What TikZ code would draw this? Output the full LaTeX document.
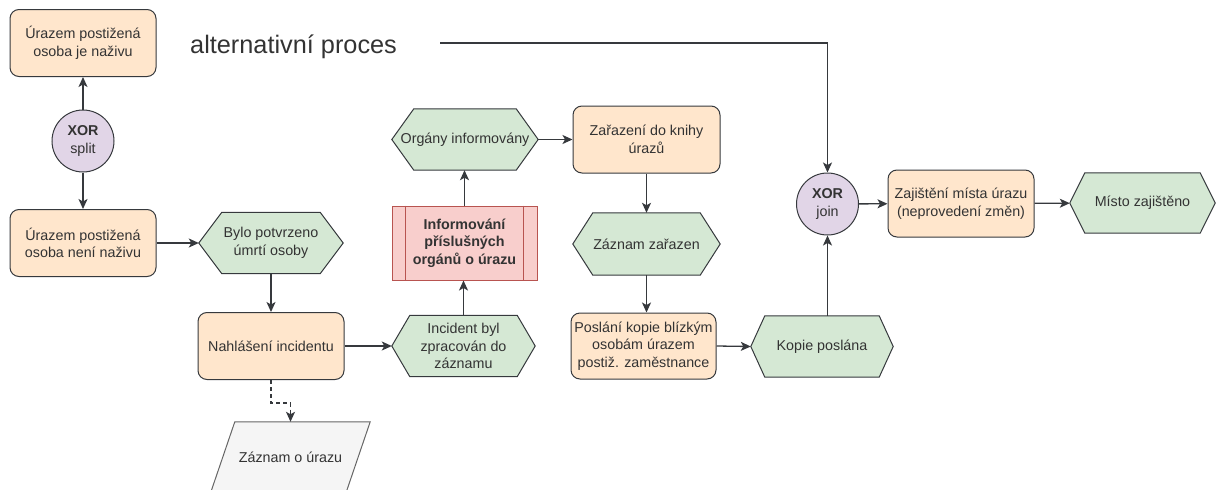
\documentclass[tikz,border=0pt]{standalone}
\usepackage{fontspec}
\setmainfont{Liberation Sans}
\usetikzlibrary{arrows.meta,backgrounds}

\definecolor{funcfill}{HTML}{FFE6CC}
\definecolor{evfill}{HTML}{D5E8D4}
\definecolor{xorfill}{HTML}{E1D5E7}
\definecolor{procfill}{HTML}{F8CECC}
\definecolor{procline}{HTML}{B85450}
\definecolor{docfill}{HTML}{F5F5F5}
\definecolor{docline}{HTML}{666666}
\definecolor{edge}{HTML}{36393D}
\definecolor{txt}{HTML}{333333}

\begin{document}
\begin{tikzpicture}[x=1pt,y=-1pt,
  every node/.style={text=txt, font=\fontsize{14.3}{17.5}\selectfont, align=center, inner xsep=1pt, inner ysep=2pt},
  func/.style={draw=edge, fill=funcfill, rounded corners=9pt, line width=1pt, minimum width=146pt, minimum height=67pt},
  event/.style={minimum width=145pt, minimum height=61pt},
  gate/.style={circle, draw=edge, fill=xorfill, line width=1pt, minimum size=62pt, inner sep=0pt},
  subproc/.style={draw=procline, fill=procfill, line width=1pt, minimum width=145pt, minimum height=74pt,
    font=\bfseries\fontsize{14.3}{17.5}\selectfont},
  doc/.style={minimum width=159pt, minimum height=70pt},
  hexa/.style={draw=edge, fill=evfill, line width=1pt},
  arr/.style={draw=edge, line width=1.3pt, -{Stealth[length=10pt,width=9pt,inset=2.5pt]}},
]
\useasboundingbox (0,0) rectangle (1221,490);

% functions (rounded boxes)
\node[func] (n1) at (83,43) {Úrazem postižená\\osoba je naživu};
\node[func] (n2) at (83,243) {Úrazem postižená\\osoba není naživu};
\node[func] (p1) at (271,346) {Nahlášení incidentu};
\node[func, minimum width=147pt] (p2) at (646.5,139.5) {Zařazení do knihy\\úrazů};
\node[func, minimum width=145pt, minimum height=66pt] (p3) at (643.5,346) {Poslání kopie blízkým\\osobám úrazem\\postiž. zaměstnance};
\node[func] (p4) at (961,203.5) {Zajištění místa úrazu\\(neprovedení změn)};

% XOR connectors
\node[gate] (xs) at (83,141) {\textbf{XOR}\\split};
\node[gate] (xj) at (827.5,204) {\textbf{XOR}\\join};

% sub-process
\node[subproc] (pr) at (464.5,243) {Informování\\příslušných\\orgánů o úrazu};
\draw[procline, line width=1pt] ([xshift=14pt]pr.north west) -- ([xshift=14pt]pr.south west)
  ([xshift=-14pt]pr.north east) -- ([xshift=-14pt]pr.south east);

% events (hexagons, outlines drawn below)
\node[event, minimum width=144pt] (e1) at (271,243) {Bylo potvrzeno\\úmrtí osoby};
\node[event, minimum width=143pt] (e2) at (463.5,346) {Incident byl\\zpracován do\\záznamu};
\node[event, minimum width=146pt] (e3) at (465,139.5) {Orgány informovány};
\node[event, minimum width=147pt, minimum height=62pt] (e4) at (646.5,244) {Záznam zařazen};
\node[event, minimum width=142pt] (e5) at (822,346.5) {Kopie poslána};
\node[event, minimum height=60pt] (e6) at (1142.5,203) {Místo zajištěno};

% document
\node[doc] (d1) at (290.5,457) {Záznam o úrazu};

% free text
\node[font=\fontsize{25.3}{30}\selectfont, anchor=base west, inner sep=0pt] (alt) at (190,53) {alternativní proces};
\coordinate (altstart) at (440,43);

\begin{scope}[on background layer]
  \foreach \e/\d in {e1/23, e2/18, e3/22, e4/20, e5/14, e6/15}
    \draw[hexa] (\e.west) -- ([xshift=\d pt]\e.north west) -- ([xshift=-\d pt]\e.north east)
      -- (\e.east) -- ([xshift=-\d pt]\e.south east) -- ([xshift=\d pt]\e.south west) -- cycle;
  \draw[draw=docline, fill=docfill, line width=1pt] (d1.south west) -- ([xshift=24pt]d1.north west)
    -- (d1.north east) -- ([xshift=-24pt]d1.south east) -- cycle;
\end{scope}

% connectors
\draw[arr] (xs) -- (n1);
\draw[arr] (xs) -- (n2);
\draw[arr] (n2) -- (e1);
\draw[arr] (e1) -- (p1);
\draw[arr] (p1) -- (e2);
\draw[arr, dash pattern=on 4pt off 3pt] (p1.south) -- ++(0,23) -| (d1.north);
\draw[arr] (e2.north) -- (e2.north |- pr.south);
\draw[arr] (pr.north) -- (pr.north |- e3.south);
\draw[arr] (e3.east) -- (p2.west);
\draw[arr] (p2) -- (e4);
\draw[arr] (e4.south) -- (e4.south |- p3.north);
\draw[arr] (p3.east) -- (e5.west);
\draw[arr] (xj.south |- e5.north) -- (xj.south);
\draw[arr] (altstart) -| (xj.north);
\draw[arr] (xj) -- (p4);
\draw[arr] (p4) -- (e6);
\end{tikzpicture}
\end{document}
